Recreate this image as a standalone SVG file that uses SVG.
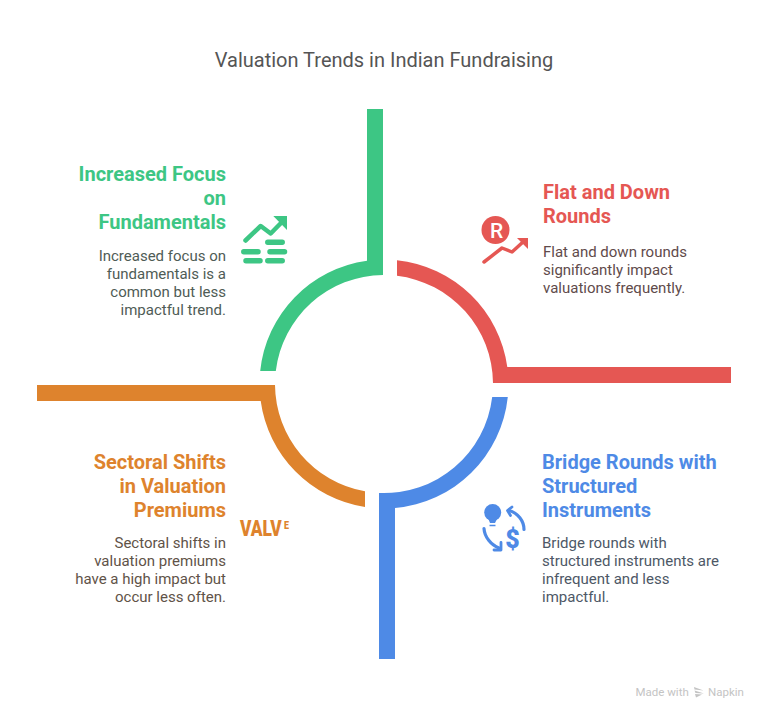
<svg xmlns="http://www.w3.org/2000/svg" width="768" height="720" viewBox="0 0 768 720">
<style>
text{font-family:Roboto,"Liberation Sans",sans-serif}
.t{font-size:20px;fill:#555}
.h{font-size:20px;font-weight:700}
.b{font-size:15px}
.bg{fill:#4f5c56}.br{fill:#5f4b4b}.bu{fill:#4d5866}.bo{fill:#5f5348}
.e{text-anchor:end}
.g{fill:#3dc684}.r{fill:#e55753}.u{fill:#4e8ae6}.o{fill:#de832d}
.ln{fill:none;stroke-linecap:round;stroke-linejoin:round}
</style>
<rect width="768" height="720" fill="#fff"/>
<text class="t" x="384" y="67" text-anchor="middle">Valuation Trends in Indian Fundraising</text>
<g id="connectors">
<path class="g" d="M367 109H383V275A109 109 0 0 0 275.800 371H260.200A124.500 124.500 0 0 1 367 260.700Z"/>
<path class="r" d="M731 367V383H493A109 109 0 0 0 397 275.800V260.200A124.500 124.500 0 0 1 507.300 367Z"/>
<path class="u" d="M395 659H379V493A109 109 0 0 0 492.200 397H507.800A124.500 124.500 0 0 1 395 508Z"/>
<path class="o" d="M37 401V385H275A109 109 0 0 0 365 491.300V507A124.500 124.500 0 0 1 260.700 401Z"/>
</g>
<g id="node-fundamentals">
<text class="h g e" x="226" y="181">Increased Focus</text>
<text class="h g e" x="226" y="205">on</text>
<text class="h g e" x="226" y="229">Fundamentals</text>
<text class="b bg e" x="226" y="261">Increased focus on</text>
<text class="b bg e" x="226" y="279">fundamentals is a</text>
<text class="b bg e" x="226" y="297">common but less</text>
<text class="b bg e" x="226" y="315">impactful trend.</text>
<g id="icon-fundamentals">
<path class="ln" d="M245.500 240.500L260.700 226L270.700 233.500L281 223" stroke="#3dc684" stroke-width="4.500"/>
<path class="g" d="M273.300 216H287V230Z"/>
<g stroke="#3dc684" stroke-width="5.500" stroke-linecap="round">
<path d="M267.800 242.300H282.200M243.800 251.700H258M270 251.700H284.500M246 260.700H260M267.800 260.700H282.200"/>
</g>
</g>
</g>
<g id="node-flat">
<text class="h r" x="543" y="199">Flat and Down</text>
<text class="h r" x="543" y="223">Rounds</text>
<text class="b br" x="543" y="257">Flat and down rounds</text>
<text class="b br" x="543" y="275">significantly impact</text>
<text class="b br" x="543" y="293">valuations frequently.</text>
<g id="icon-flat">
<circle class="r" cx="495.500" cy="230" r="14"/>
<text x="496.500" y="237.500" text-anchor="middle" font-size="21" font-weight="500" fill="#fff">R</text>
<path class="ln" d="M484 262L502 248L512 252L523 242" stroke="#e55753" stroke-width="3.500"/>
<path class="r" d="M517 238H528V249Z"/>
</g>
</g>
<g id="node-bridge">
<text class="h u" x="542" y="469">Bridge Rounds with</text>
<text class="h u" x="542" y="493">Structured</text>
<text class="h u" x="542" y="517">Instruments</text>
<text class="b bu" x="542" y="548">Bridge rounds with</text>
<text class="b bu" x="542" y="566">structured instruments are</text>
<text class="b bu" x="542" y="584">infrequent and less</text>
<text class="b bu" x="542" y="602">impactful.</text>
<g id="icon-bridge">
<circle class="u" cx="492.700" cy="512.500" r="8.500"/>
<path class="u" d="M488 518H497.500L495 523H490Z"/>
<path d="M489.500 525.500H495.500" stroke="#4e8ae6" stroke-width="1.500"/>
<path class="ln" d="M509 510.500C518 513 524 521 524 529.500" stroke="#4e8ae6" stroke-width="3.200"/>
<path class="ln" d="M512 507L507.500 510.500L510.500 515.500" stroke="#4e8ae6" stroke-width="2.800"/>
<path class="ln" d="M484 528.500C484.500 537 491 545 499 548" stroke="#4e8ae6" stroke-width="3.200"/>
<path class="ln" d="M494 550H501V542.500" stroke="#4e8ae6" stroke-width="2.800"/>
<text x="512.500" y="548" text-anchor="middle" font-size="25" font-weight="900" class="u">$</text>
</g>
</g>
<g id="node-sectoral">
<text class="h o e" x="226" y="469">Sectoral Shifts</text>
<text class="h o e" x="226" y="493">in Valuation</text>
<text class="h o e" x="226" y="517">Premiums</text>
<text class="b bo e" x="226" y="548">Sectoral shifts in</text>
<text class="b bo e" x="226" y="566">valuation premiums</text>
<text class="b bo e" x="226" y="584">have a high impact but</text>
<text class="b bo e" x="226" y="602">occur less often.</text>
<g id="icon-sectoral">
<text transform="translate(240 536) scale(.77 1)" font-size="22.500" font-weight="900" class="o">VALV<tspan font-size="11.500" dx="3" dy="-7.500">E</tspan></text>
</g>
</g>
<g id="watermark">
<text x="635.500" y="696" font-size="11.500" fill="#c4c4c4">Made with</text>
<path d="M694 687L703.500 690.500L694.500 689.500ZM694.500 690.500L704 693.500L695.500 693ZM695 694L702 694.500L696 697.500Z" fill="#c4c4c4"/>
<text x="708" y="696" font-size="11.500" fill="#c4c4c4">Napkin</text>
</g>
</svg>
